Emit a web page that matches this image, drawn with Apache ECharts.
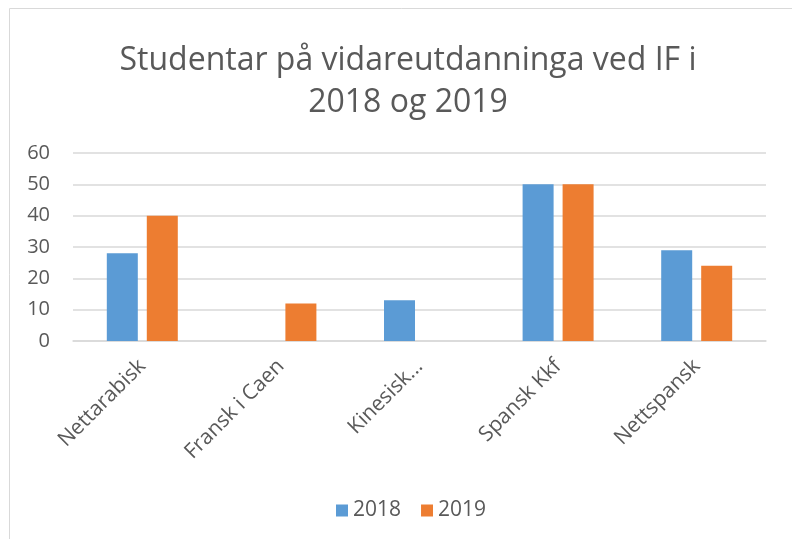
<!DOCTYPE html>
<html>
<head>
<meta charset="utf-8">
<script src="https://cdn.jsdelivr.net/npm/echarts@6/dist/echarts.min.js"></script>
<style>
  html, body { margin: 0; padding: 0; background: #fff; }
  #main { width: 792px; height: 539px; }
</style>
</head>
<body>
<div id="main"></div>
<script>
// kategoriar og verdiar
var categories = ['Nettarabisk', 'Fransk i Caen', 'Kinesisk...', 'Spansk Kkf', 'Nettspansk'];
var values2018 = [28, 0, 13, 50, 29];
var values2019 = [40, 12, 0, 50, 24];
var seriesNames = ['2018', '2019'];

var font = 'Open Sans';
var myChart = echarts.init(document.getElementById('main'));
myChart.setOption({
    animation: false,
    graphic: [{
        type: 'rect',
        shape: { x: 9.5, y: 8.5, width: 800, height: 560 },
        style: { fill: 'none', stroke: '#d9d9d9', lineWidth: 1 },
        silent: true
    }],
    title: {
        text: 'Studentar på vidareutdanninga ved IF i\n2018 og 2019',
        left: 403,
        top: 35,
        textAlign: 'center',
        textStyle: {
            fontFamily: font,
            fontSize: 32,
            fontWeight: 'normal',
            color: '#595959',
            lineHeight: 42
        }
    },
    legend: {
        data: seriesNames,
        bottom: 13,
        left: 331,
        itemWidth: 12,
        itemHeight: 12,
        itemGap: 20,
        icon: 'rect',
        textStyle: { fontFamily: font, fontSize: 21, color: '#595959' }
    },
    grid: {
        left: 73,
        right: 26,
        top: 153,
        bottom: 198,
        containLabel: false
    },
    xAxis: {
        type: 'category',
        data: categories,
        axisLine: { lineStyle: { color: '#d9d9d9', width: 1.5 } },
        axisTick: { show: false },
        axisLabel: {
            rotate: 45,
            interval: 0,
            margin: 22,
            fontFamily: font,
            fontSize: 21,
            color: '#595959'
        }
    },
    yAxis: {
        type: 'value',
        min: 0,
        max: 60,
        interval: 10,
        axisLine: { show: false },
        axisTick: { show: false },
        splitLine: { lineStyle: { color: '#d9d9d9', width: 1.5 } },
        axisLabel: {
            margin: 23,
            fontFamily: font,
            fontSize: 20,
            color: '#595959'
        }
    },
    series: [
        {
            name: seriesNames[0],
            type: 'bar',
            data: values2018,
            barWidth: 31,
            barGap: '29%',
            itemStyle: { color: '#5b9bd5' }
        },
        {
            name: seriesNames[1],
            type: 'bar',
            data: values2019,
            barWidth: 31,
            itemStyle: { color: '#ed7d31' }
        }
    ]
});
</script>
</body>
</html>
